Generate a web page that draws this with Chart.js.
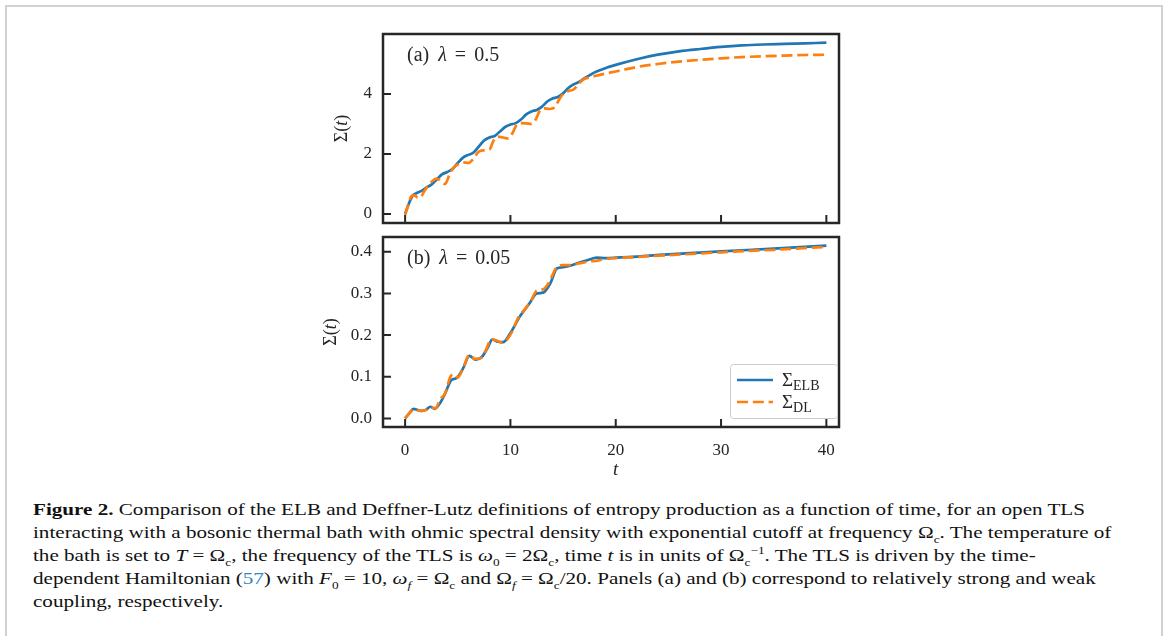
<!DOCTYPE html>
<html>
<head>
<meta charset="utf-8">
<script src="https://cdn.jsdelivr.net/npm/chart.js@4.4.0/dist/chart.umd.min.js"></script>
<style>
  body { margin: 0; background: #fff; width: 1165px; height: 636px; overflow: hidden; position: relative; font-family: "Liberation Serif", serif; }
  #frame { position: absolute; left: 5px; top: 5px; width: 1154px; height: 700px; border: 2px solid #d2d2d2; border-bottom: none; }
  #boxA { position: absolute; left: 300px; top: 20px; }
  #boxB { position: absolute; left: 300px; top: 225px; }
  #caption { position: absolute; left: 33px; top: 498px; font-size: 17.5px; line-height: 23px; color: #111; transform-origin: 0 0; white-space: nowrap; }
  #caption i { font-style: italic; }
  #caption sub, #caption sup { font-size: 11px; line-height: 0; }
  .ref { color: #2f86c6; }
</style>
</head>
<body>
<div id="frame"></div>
<div id="boxA"><canvas id="chartA" width="560" height="215"></canvas></div>
<div id="boxB"><canvas id="chartB" width="560" height="265"></canvas></div>
<div id="caption">
  <div id="line1"><b>Figure 2.</b> Comparison of the ELB and Deffner-Lutz definitions of entropy production as a function of time, for an open TLS</div>
  <div>interacting with a bosonic thermal bath with ohmic spectral density with exponential cutoff at frequency Ω<sub>c</sub>. The temperature of</div>
  <div>the bath is set to <i>T</i> = Ω<sub>c</sub>, the frequency of the TLS is <i>ω</i><sub>0</sub> = 2Ω<sub>c</sub>, time <i>t</i> is in units of Ω<sub>c</sub><sup>−1</sup>. The TLS is driven by the time-</div>
  <div>dependent Hamiltonian (<span class="ref">57</span>) with <i>F</i><sub>0</sub> = 10, <i>ω<sub>f</sub></i> = Ω<sub>c</sub> and Ω<sub><i>f</i></sub> = Ω<sub>c</sub>/20. Panels (a) and (b) correspond to relatively strong and weak</div>
  <div>coupling, respectively.</div>
</div>
<script>
// ===== Data =====
const xTicks = [0, 10, 20, 30, 40];
const yTicksA = [0, 2, 4];
const yTicksB = [0.0, 0.1, 0.2, 0.3, 0.4];

// panel (a), lambda = 0.5
const tElbA = [0,0.3,0.7,1,1.5,2,2.5,3,3.5,4,4.5,5,5.5,6,6.5,7,7.5,8,8.5,9,9.5,10,10.5,11,11.5,12,12.5,13,13.5,14,14.5,15,15.5,16,16.5,17,17.5,18,19,20,22,24,26,28,30,32,34,36,38,40];
const elbA = [0,0.3,0.6,0.68,0.76,0.88,0.98,1.15,1.32,1.4,1.5,1.7,1.88,1.97,2.05,2.25,2.45,2.55,2.6,2.75,2.9,2.98,3.03,3.15,3.32,3.42,3.47,3.58,3.75,3.85,3.9,4.02,4.2,4.32,4.4,4.52,4.62,4.72,4.86,4.97,5.16,5.31,5.42,5.5,5.57,5.62,5.65,5.67,5.69,5.71];
const tDlA = [0,0.3,0.6,0.9,1.2,1.5,1.8,2.2,2.6,3.0,3.4,3.8,4.2,4.6,5.0,5.5,6.0,6.5,7.0,7.5,8.0,8.4,8.8,9.3,9.8,10.2,10.6,11.0,11.5,12.0,12.4,12.8,13.2,13.7,14.2,14.6,15.0,15.5,16.0,16.5,17.0,17.5,18.0,19,20,22,24,26,28,30,32,34,36,38,40];
const dlA = [-0.03,0.3,0.6,0.62,0.55,0.57,0.75,0.95,1.1,1.18,1.1,1.0,1.3,1.55,1.65,1.72,1.7,1.85,2.08,2.12,2.15,2.45,2.58,2.55,2.52,2.7,2.98,3.03,3.02,3.0,3.15,3.45,3.52,3.5,3.55,3.8,4.0,4.1,4.15,4.35,4.5,4.55,4.6,4.68,4.75,4.9,5.0,5.08,5.14,5.19,5.23,5.26,5.28,5.3,5.31];

// panel (b), lambda = 0.05
const tElbB = [0,0.4,0.8,1.2,1.6,2.0,2.4,2.8,3.3,3.8,4.4,4.9,5.5,6.1,6.7,7.3,7.8,8.3,8.8,9.3,10.0,10.9,11.8,12.5,13.1,13.8,14.4,15.0,15.7,16.5,17.3,18.2,19.0,20,25,30,35,40];
const elbB = [0,0.012,0.023,0.02,0.018,0.021,0.028,0.023,0.036,0.06,0.092,0.097,0.12,0.15,0.141,0.148,0.168,0.19,0.184,0.183,0.205,0.245,0.276,0.3,0.302,0.325,0.36,0.363,0.367,0.374,0.38,0.386,0.385,0.386,0.394,0.401,0.408,0.415];
const tDlB = [0,0.6,1.0,1.4,2.0,2.4,2.9,3.3,3.8,4.3,4.7,5.0,5.5,6.1,6.6,7.2,7.6,8.2,8.7,9.2,9.7,10.2,10.7,11.3,11.9,12.5,13.1,13.7,14.3,14.9,15.6,16.5,17.5,18.3,19,20,25,30,35,40];
const dlB = [0,0.018,0.022,0.018,0.02,0.027,0.024,0.045,0.06,0.1,0.106,0.098,0.12,0.152,0.143,0.145,0.16,0.19,0.187,0.182,0.19,0.21,0.24,0.26,0.28,0.307,0.31,0.328,0.36,0.368,0.368,0.372,0.377,0.379,0.383,0.385,0.392,0.399,0.405,0.412];

const BLUE = "#1f77b4";
const ORANGE = "#ff7f0e";
const INK = "#262626";
const SERIF = '"Liberation Serif", serif';

function pts(ts, ys) {
  return ts.map((t, i) => ({ x: t, y: ys[i] }));
}

// draws a list of text runs side by side; align "left" or "center"
function drawRuns(ctx, runs, x, y, align) {
  ctx.textBaseline = "alphabetic";
  ctx.textAlign = "left";
  let total = 0;
  runs.forEach((r) => { ctx.font = r.f; total += ctx.measureText(r.t).width + (r.gap || 0); });
  let cx = align === "center" ? x - total / 2 : x;
  runs.forEach((r) => {
    ctx.font = r.f;
    ctx.fillStyle = r.c || INK;
    ctx.fillText(r.t, cx, y + (r.dy || 0));
    cx += ctx.measureText(r.t).width + (r.gap || 0);
  });
}

const rm = (s) => s + "px " + SERIF;
const it = (s) => "italic " + s + "px " + SERIF;

// ===== frame, inward ticks, labels =====
const decor = {
  id: "decor",
  afterDatasetsDraw(chart, args, opts) {
    const ctx = chart.ctx;
    const a = chart.chartArea;
    const xs = chart.scales.x, ys = chart.scales.y;
    ctx.save();
    ctx.strokeStyle = INK;
    ctx.lineWidth = 2;
    ctx.beginPath();
    xTicks.forEach((v) => {
      const px = xs.getPixelForValue(v);
      ctx.moveTo(px, a.bottom); ctx.lineTo(px, a.bottom - 8);
    });
    opts.yTicks.forEach((v) => {
      const py = ys.getPixelForValue(v);
      ctx.moveTo(a.left, py); ctx.lineTo(a.left + 8, py);
    });
    ctx.stroke();
    ctx.lineWidth = 2.5;
    ctx.strokeRect(a.left, a.top, a.right - a.left, a.bottom - a.top);

    // panel label
    drawRuns(ctx, [
      { t: opts.tag, f: rm(20), gap: 9 },
      { t: "λ", f: it(20), gap: 8 },
      { t: "=", f: rm(20), gap: 8 },
      { t: opts.lam, f: rm(20) },
    ], a.left + 24, a.top + 27, "left");

    // y title
    ctx.save();
    ctx.translate(opts.yTitleX, (a.top + a.bottom) / 2);
    ctx.rotate(-Math.PI / 2);
    drawRuns(ctx, [
      { t: "Σ(", f: rm(18) },
      { t: "t", f: it(18) },
      { t: ")", f: rm(18) },
    ], 0, 6, "center");
    ctx.restore();

    if (opts.xTitle) {
      drawRuns(ctx, [{ t: "t", f: it(19) }], xs.getPixelForValue(20), a.bottom + 48, "center");
    }

    if (opts.legend) {
      const bx = a.right - 109, by = a.bottom - 63, bw = 107, bh = 54;
      ctx.fillStyle = "rgba(255,255,255,0.8)";
      ctx.strokeStyle = "#cccccc";
      ctx.lineWidth = 1;
      ctx.beginPath();
      ctx.roundRect(bx + 0.5, by + 0.5, bw, bh, 3);
      ctx.fill();
      ctx.stroke();
      const rows = [
        { c: BLUE, dash: [], sub: "ELB" },
        { c: ORANGE, dash: [11, 4.8], sub: "DL" },
      ];
      rows.forEach((r, i) => {
        const ly = by + 16 + i * 22;
        ctx.strokeStyle = r.c;
        ctx.lineWidth = 2.7;
        ctx.setLineDash(r.dash);
        ctx.beginPath();
        ctx.moveTo(bx + 7, ly); ctx.lineTo(bx + 43, ly);
        ctx.stroke();
        ctx.setLineDash([]);
        drawRuns(ctx, [
          { t: "Σ", f: rm(19) },
          { t: r.sub, f: rm(14), dy: 4 },
        ], bx + 52, ly + 6, "left");
      });
    }
    ctx.restore();
  },
};

function makeChart(id, cfg) {
  const yScale = {
    type: "linear",
    min: cfg.yMin, max: cfg.yMax,
    afterBuildTicks: (s) => { s.ticks = cfg.yTicks.map((v) => ({ value: v })); },
    afterFit: (s) => { s.width = 83; s.paddingTop = 0; s.paddingBottom = 0; },
    grid: { display: false, drawTicks: false },
    border: { display: false },
    ticks: {
      padding: 11,
      color: INK,
      font: { family: SERIF, size: 17 },
      callback: (v) => cfg.yFmt(v),
    },
  };
  const xScale = {
    type: "linear",
    min: -2.1, max: 41.2,
    afterBuildTicks: (s) => { s.ticks = xTicks.map((v) => ({ value: v })); },
    afterFit: (s) => { s.height = cfg.xHeight; s.paddingLeft = 0; s.paddingRight = 0; },
    grid: { display: false, drawTicks: false },
    border: { display: false },
    ticks: {
      display: cfg.xLabels,
      padding: 13,
      maxRotation: 0,
      color: INK,
      font: { family: SERIF, size: 17 },
      callback: (v) => String(v),
    },
  };
  return new Chart(document.getElementById(id), {
    type: "line",
    data: {
      datasets: [
        { data: pts(cfg.tElb, cfg.elb), borderColor: BLUE, borderWidth: 2.7, order: 1 },
        { data: pts(cfg.tDl, cfg.dl), borderColor: ORANGE, borderWidth: 2.7, borderDash: [11, 4.8], order: 0 },
      ],
    },
    options: {
      responsive: false,
      animation: false,
      devicePixelRatio: 1,
      layout: { padding: { top: cfg.padTop, right: 21, bottom: 0, left: 0 } },
      elements: { point: { radius: 0 }, line: { cubicInterpolationMode: "monotone", borderCapStyle: "butt" } },
      scales: { x: xScale, y: yScale },
      plugins: {
        legend: { display: false },
        tooltip: { enabled: false },
        decor: cfg.decor,
      },
    },
    plugins: [decor],
  });
}

makeChart("chartA", {
  tElb: tElbA, elb: elbA, tDl: tDlA, dl: dlA,
  yMin: -0.3, yMax: 6.0, yTicks: yTicksA, yFmt: (v) => String(v),
  xHeight: 12, xLabels: false, padTop: 14,
  decor: { yTicks: yTicksA, tag: "(a)", lam: "0.5", yTitleX: 41, xTitle: false, legend: false },
});

makeChart("chartB", {
  tElb: tElbB, elb: elbB, tDl: tDlB, dl: dlB,
  yMin: -0.0207, yMax: 0.4357, yTicks: yTicksB, yFmt: (v) => v.toFixed(1),
  xHeight: 63, xLabels: true, padTop: 12,
  decor: { yTicks: yTicksB, tag: "(b)", lam: "0.05", yTitleX: 30, xTitle: true, legend: true },
});

// stretch caption so the first line ends where the original does
const line1 = document.getElementById("line1");
const r = document.createRange();
r.selectNodeContents(line1);
const natural = r.getBoundingClientRect().width;
document.getElementById("caption").style.transform = "scaleX(" + (1052 / natural) + ")";
</script>
</body>
</html>
